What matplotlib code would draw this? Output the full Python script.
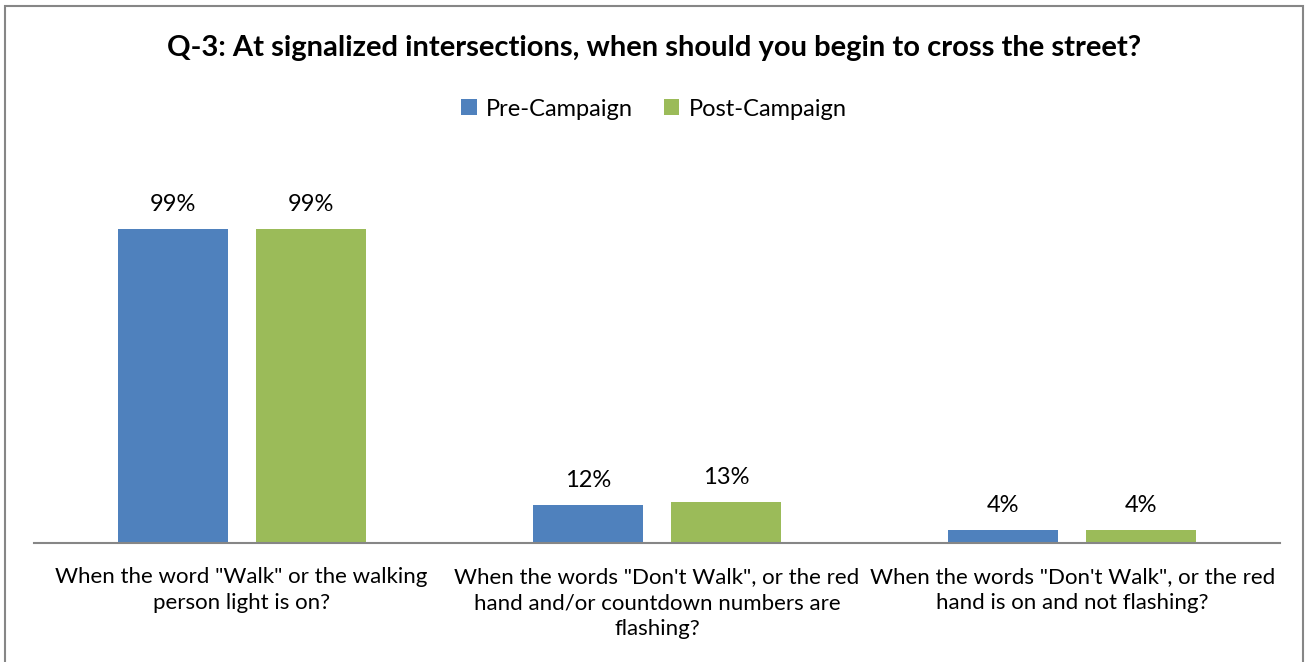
import matplotlib
matplotlib.use('Agg')
import matplotlib.pyplot as plt
import numpy as np
from matplotlib.patches import Rectangle

categories = [
    'When the word "Walk" or the walking\nperson light is on?',
    'When the words "Don\'t Walk", or the red\nhand and/or countdown numbers are\nflashing?',
    'When the words "Don\'t Walk", or the red\nhand is on and not flashing?',
]
series_names = ['Pre-Campaign', 'Post-Campaign']
pre_values = [99, 12, 4]
post_values = [99, 13, 4]
colors = ['#4f81bd', '#9bbb59']

plt.rcParams['font.family'] = ['Lato', 'DejaVu Sans']

W, H = 1308, 662
fig = plt.figure(figsize=(W / 100, H / 100), dpi=100)

# chart border
fig.patches.append(Rectangle((5 / W, -0.01), (1303 - 5) / W, 1 - 6 / H + 0.01,
                             transform=fig.transFigure, fill=False,
                             edgecolor='#868686', linewidth=1.5))

ax = fig.add_axes([34 / W, 1 - 543 / H, (1280 - 34) / W, (543 - 150) / H])

x = np.arange(len(categories))
width = 0.265
offset = 0.166
bars_pre = ax.bar(x - offset, pre_values, width, color=colors[0], label=series_names[0])
bars_post = ax.bar(x + offset, post_values, width, color=colors[1], label=series_names[1])

for bars in (bars_pre, bars_post):
    for b in bars:
        ax.text(b.get_x() + b.get_width() / 2, b.get_height() + 4.5, f'{int(b.get_height())}%',
                ha='center', va='bottom', fontsize=17, color='#000000')

ax.set_xlim(-0.5, len(categories) - 0.5)
ax.set_ylim(0, 124)
ax.set_yticks([])
ax.set_xticks(x)
ax.set_xticklabels(categories, fontsize=16, linespacing=1.4)
ax.tick_params(axis='x', length=0, pad=17)
for s in ['top', 'right', 'left']:
    ax.spines[s].set_visible(False)
ax.spines['bottom'].set_color('#868686')
ax.spines['bottom'].set_linewidth(1.5)

fig.text(0.5, 1 - 48 / H, 'Q-3: At signalized intersections, when should you begin to cross the street?',
         ha='center', va='center', fontsize=21, fontweight='bold')

fig.legend(handles=[bars_pre, bars_post], labels=series_names, loc='center',
           bbox_to_anchor=(0.5, 1 - 109 / H), ncol=2, frameon=False, fontsize=17,
           handlelength=0.65, handleheight=0.65, handletextpad=0.4, columnspacing=1.3)

fig.savefig('out.png', dpi=100)
